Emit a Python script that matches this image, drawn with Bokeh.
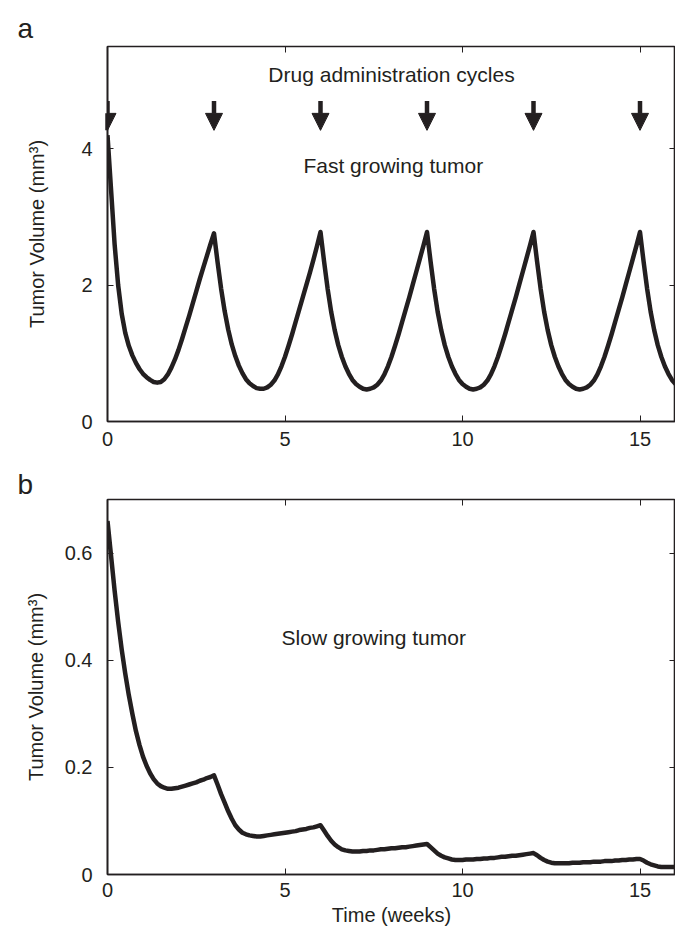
from bokeh.plotting import figure
from bokeh.models import (ColumnDataSource, LinearAxis, FixedTicker, Arrow,
                          NormalHead, Label, Range1d, Title)
from bokeh.layouts import column
from bokeh.embed import file_html
from bokeh.resources import INLINE

# ---------------- data ----------------
weeks = [i / 10 for i in range(161)]  # sampling grid, 0..16 weeks

fast_volume = [
    4.20, 3.40, 2.60, 2.00, 1.58, 1.30, 1.11, 0.97, 0.86, 0.77,
    0.70, 0.65, 0.61, 0.58, 0.57, 0.58, 0.62, 0.69, 0.79, 0.91,
    1.05, 1.21, 1.38, 1.55, 1.73, 1.91, 2.09, 2.26, 2.43, 2.60,
    2.76,
    2.34, 1.95, 1.62, 1.35, 1.13, 0.96, 0.82, 0.71, 0.62, 0.56,
    0.52, 0.49, 0.48, 0.48, 0.50, 0.54, 0.60, 0.69, 0.81, 0.95,
    1.11, 1.28, 1.46, 1.64, 1.82, 2.00, 2.18, 2.37, 2.57, 2.78,
    2.35, 1.95, 1.61, 1.34, 1.12, 0.95, 0.81, 0.70, 0.61, 0.55,
    0.51, 0.48, 0.47, 0.48, 0.50, 0.54, 0.60, 0.69, 0.81, 0.95,
    1.11, 1.28, 1.46, 1.64, 1.82, 2.01, 2.20, 2.39, 2.58, 2.78,
    2.35, 1.95, 1.61, 1.34, 1.12, 0.95, 0.81, 0.70, 0.61, 0.55,
    0.51, 0.48, 0.47, 0.48, 0.50, 0.54, 0.60, 0.69, 0.81, 0.95,
    1.11, 1.28, 1.46, 1.64, 1.82, 2.01, 2.20, 2.39, 2.58, 2.78,
    2.35, 1.95, 1.61, 1.34, 1.12, 0.95, 0.81, 0.70, 0.61, 0.55,
    0.51, 0.48, 0.47, 0.48, 0.50, 0.54, 0.60, 0.69, 0.81, 0.95,
    1.11, 1.28, 1.46, 1.64, 1.82, 2.01, 2.20, 2.39, 2.58, 2.78,
    2.35, 1.95, 1.61, 1.34, 1.12, 0.95, 0.81, 0.70, 0.61, 0.55,
]

slow_volume = [
    0.660, 0.595, 0.530, 0.472, 0.420, 0.375, 0.335, 0.300, 0.268, 0.242,
    0.220, 0.203, 0.189, 0.178, 0.170, 0.165, 0.162, 0.160, 0.160, 0.161,
    0.162, 0.164, 0.166, 0.168, 0.170, 0.172, 0.175, 0.177, 0.180, 0.182,
    0.185,
    0.168, 0.150, 0.134, 0.118, 0.104, 0.092, 0.084, 0.078, 0.075, 0.073,
    0.072, 0.071, 0.071, 0.072, 0.073, 0.074, 0.075, 0.076, 0.077, 0.078,
    0.079, 0.080, 0.081, 0.083, 0.084, 0.085, 0.087, 0.088, 0.090, 0.092,
    0.082, 0.072, 0.063, 0.056, 0.051, 0.047, 0.045, 0.044, 0.043, 0.043,
    0.043, 0.044, 0.044, 0.045, 0.045, 0.046, 0.047, 0.047, 0.048, 0.049,
    0.049, 0.050, 0.051, 0.051, 0.052, 0.053, 0.054, 0.055, 0.056, 0.057,
    0.051, 0.045, 0.039, 0.035, 0.032, 0.030, 0.028, 0.027, 0.027, 0.027,
    0.028, 0.028, 0.028, 0.029, 0.029, 0.030, 0.030, 0.031, 0.031, 0.032,
    0.033, 0.033, 0.034, 0.035, 0.035, 0.036, 0.037, 0.038, 0.039, 0.040,
    0.036, 0.031, 0.027, 0.024, 0.022, 0.021, 0.021, 0.021, 0.021, 0.021,
    0.022, 0.022, 0.022, 0.023, 0.023, 0.023, 0.024, 0.024, 0.024, 0.025,
    0.025, 0.025, 0.026, 0.026, 0.027, 0.027, 0.028, 0.028, 0.029, 0.029,
    0.026, 0.022, 0.019, 0.017, 0.015, 0.014, 0.014, 0.014, 0.014, 0.014,
]

dose_weeks = [0, 3, 6, 9, 12, 15]

x_ticks = [0, 5, 10, 15]
x_tick_labels = ["0", "5", "10", "15"]
fast_y_ticks = [0, 2, 4]
fast_y_tick_labels = ["0", "2", "4"]
slow_y_ticks = [0, 0.2, 0.4, 0.6]
slow_y_tick_labels = ["0", "0.2", "0.4", "0.6"]

# ---------------- styling ----------------
INK = "#231f20"
FONT = "Liberation Sans"
FS = "20px"
W = 675


def make_fig(height, ymax, top, bottom):
    p = figure(width=W, height=height, x_range=Range1d(0, 16),
               y_range=Range1d(0, ymax), output_backend="svg",
               toolbar_location=None, min_border_left=107, min_border_right=0,
               min_border_top=top, min_border_bottom=bottom, title=None)
    p.background_fill_color = "white"
    p.border_fill_color = "white"
    p.grid.visible = False
    p.outline_line_color = INK
    p.outline_line_width = 1.6
    return p


def add_letter(p, letter, standoff):
    p.add_layout(Title(text=letter, align="left", offset=-90,
                       text_font=FONT, text_font_size="28px",
                       text_font_style="normal", text_color=INK,
                       standoff=standoff), "above")


def style_axis(ax, ticks, labels, standoff, show_labels=True):
    ax.ticker = FixedTicker(ticks=ticks)
    ax.major_label_overrides = {t: l for t, l in zip(ticks, labels)}
    ax.axis_line_color = INK
    ax.axis_line_width = 1.6
    ax.major_tick_in = 6
    ax.major_tick_out = 0
    ax.major_tick_line_color = INK
    ax.major_tick_line_width = 1
    ax.minor_tick_line_color = None
    ax.major_label_text_font = FONT
    ax.major_label_text_color = INK
    ax.major_label_text_font_size = FS if show_labels else "0px"
    ax.major_label_standoff = standoff
    ax.axis_label_text_font = FONT
    ax.axis_label_text_font_size = FS
    ax.axis_label_text_font_style = "normal"
    ax.axis_label_text_color = INK


def mirror(p, ticks, side):
    ax = LinearAxis()
    style_axis(ax, ticks, [""] * len(ticks), 0, show_labels=False)
    ax.axis_line_color = None
    p.add_layout(ax, side)


# ---------------- panel a ----------------
pa = make_fig(455, 5.5, 46, 34)
pa.line(weeks, fast_volume, line_width=4.5, line_color=INK,
        line_join="round")
style_axis(pa.xaxis[0], x_ticks, x_tick_labels, 10)
style_axis(pa.yaxis[0], fast_y_ticks, fast_y_tick_labels, 15)
pa.yaxis[0].axis_label = "Tumor Volume (mm³)"
pa.yaxis[0].axis_label_standoff = 30
mirror(pa, x_ticks, "above")
mirror(pa, fast_y_ticks, "right")
add_letter(pa, "a", 6)

arrow_src = ColumnDataSource(dict(x=dose_weeks,
                                  y0=[4.70] * len(dose_weeks),
                                  y1=[4.27] * len(dose_weeks)))
pa.add_layout(Arrow(end=NormalHead(size=17, fill_color=INK, line_color=INK,
                                   line_width=1),
                    x_start="x", y_start="y0", x_end="x", y_end="y1",
                    line_width=4.5, line_color=INK, source=arrow_src))

pa.add_layout(Label(x=8.0, y=5.09, text="Drug administration cycles",
                    text_align="center", text_baseline="middle",
                    text_font=FONT, text_font_size="21px", text_color=INK))
pa.add_layout(Label(x=8.05, y=3.75, text="Fast growing tumor",
                    text_align="center", text_baseline="middle",
                    text_font=FONT, text_font_size="21px", text_color=INK))

# ---------------- panel b ----------------
pb = make_fig(479, 0.7, 44, 60)
pb.line(weeks, slow_volume, line_width=4.5, line_color=INK,
        line_join="round")
style_axis(pb.xaxis[0], x_ticks, x_tick_labels, 8)
style_axis(pb.yaxis[0], slow_y_ticks, slow_y_tick_labels, 15)
pb.yaxis[0].axis_label = "Tumor Volume (mm³)"
pb.yaxis[0].axis_label_standoff = 15
pb.xaxis[0].axis_label = "Time (weeks)"
pb.xaxis[0].axis_label_standoff = 4
mirror(pb, x_ticks, "above")
mirror(pb, slow_y_ticks, "right")
add_letter(pb, "b", 0)

pb.add_layout(Label(x=7.5, y=0.442, text="Slow growing tumor",
                    text_align="center", text_baseline="middle",
                    text_font=FONT, text_font_size="21px", text_color=INK))

layout = column(pa, pb, spacing=0)
open("out.html", "w").write(file_html(layout, INLINE))
